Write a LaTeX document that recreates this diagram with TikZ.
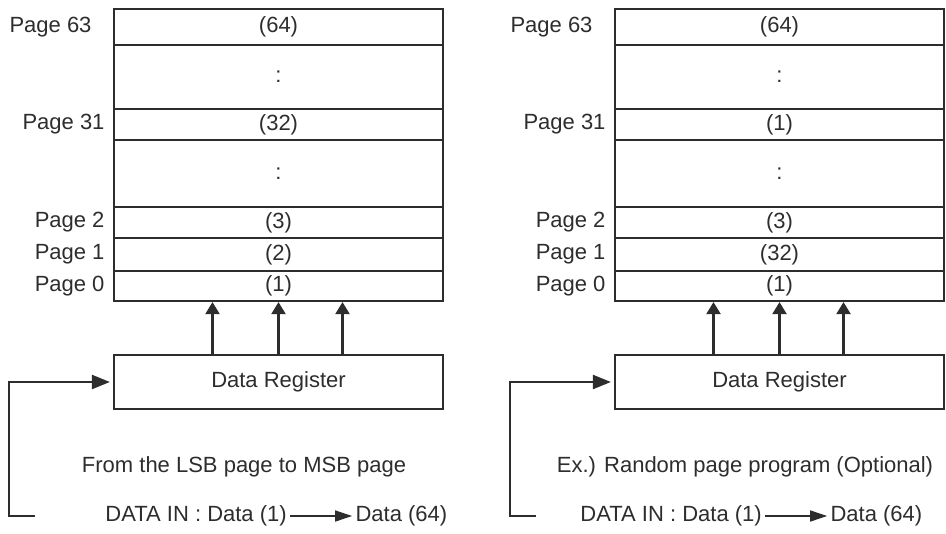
\documentclass[tikz,border=0pt]{standalone}
\usepackage{fontspec}
\setmainfont{Liberation Sans}
\definecolor{ink}{RGB}{45,45,45}
\usetikzlibrary{positioning,arrows.meta}

\begin{document}
\begin{tikzpicture}[x=0.5pt,y=-0.5pt,
    font=\fontsize{11}{13}\selectfont, text=ink,
    cell/.style={draw=ink,line width=1.1pt,minimum width=164.5pt,inner sep=0pt},
    lbl/.style={inner sep=0pt},
    note/.style={inner sep=0pt},
    uparr/.style={draw=ink,line width=1.1pt,-{Triangle[length=6pt,width=7pt]}},
    inarr/.style={draw=ink,line width=1.1pt,-{Triangle[length=9pt,width=7pt]}},
    darr/.style={draw=ink,line width=0.8pt,-{Triangle[length=8.5pt,width=5.5pt]}}]
  \useasboundingbox (0,0) rectangle (946,534);
  % two panels: x offset, prefix, rows of page 31 and page 1, note, x of DATA IN line
  \foreach \ox/\pn/\mida/\midb/\txt/\dinx in {0/L/{(32)}/{(2)}/{From the LSB page to MSB page}/105,
      501/R/{(1)}/{(32)}/{Ex.) Random page program (Optional)}/79} {
    \begin{scope}[shift={(\ox,0)}]
      % page rows
      \foreach \nm/\ya/\yb/\val in {r63/9/45/{(64)}, d2/45/109/{:}, r31/109/140/{\mida},
          d1/140/207/{:}, r2/207/238/{(3)}, r1/238/271/{\midb}, r0/271/301/{(1)}}
        \node[cell,minimum height={(\yb-\ya)*0.5pt}] (\pn-\nm) at (278.5,{(\ya+\yb)/2}) {\val};
      % page labels
      \foreach \nm/\pg/\gap in {r63/63/10.5, r31/31/4, r2/2/4, r1/1/4, r0/0/4}
        \node[lbl,left=\gap pt of \pn-\nm] (\pn-p\pg) {Page \pg};
      % data register
      \node[cell,minimum height=27pt] (\pn-reg) at (278.5,382) {Data Register};
      \foreach \sx in {-33,0,32}
        \draw[uparr] ([xshift=\sx pt]\pn-reg.north) -- ([xshift=\sx pt]\pn-r0.south);
      % input line
      \coordinate (\pn-in) at (35,516);
      \draw[inarr] (\pn-in) -- (9,516) |- ([xshift=-1.5pt]\pn-reg.west);
      % notes
      \node[note] (\pn-note) at (244,467) {\txt};
      \node[note,anchor=west] (\pn-din) at (\dinx,516) {DATA IN : Data (1)};
      \node[note,right=34pt of \pn-din] (\pn-dout) {Data (64)};
      \draw[darr,shorten <=1.5pt,shorten >=1.5pt] (\pn-din) -- (\pn-dout);
    \end{scope}
  }
\end{tikzpicture}
\end{document}
